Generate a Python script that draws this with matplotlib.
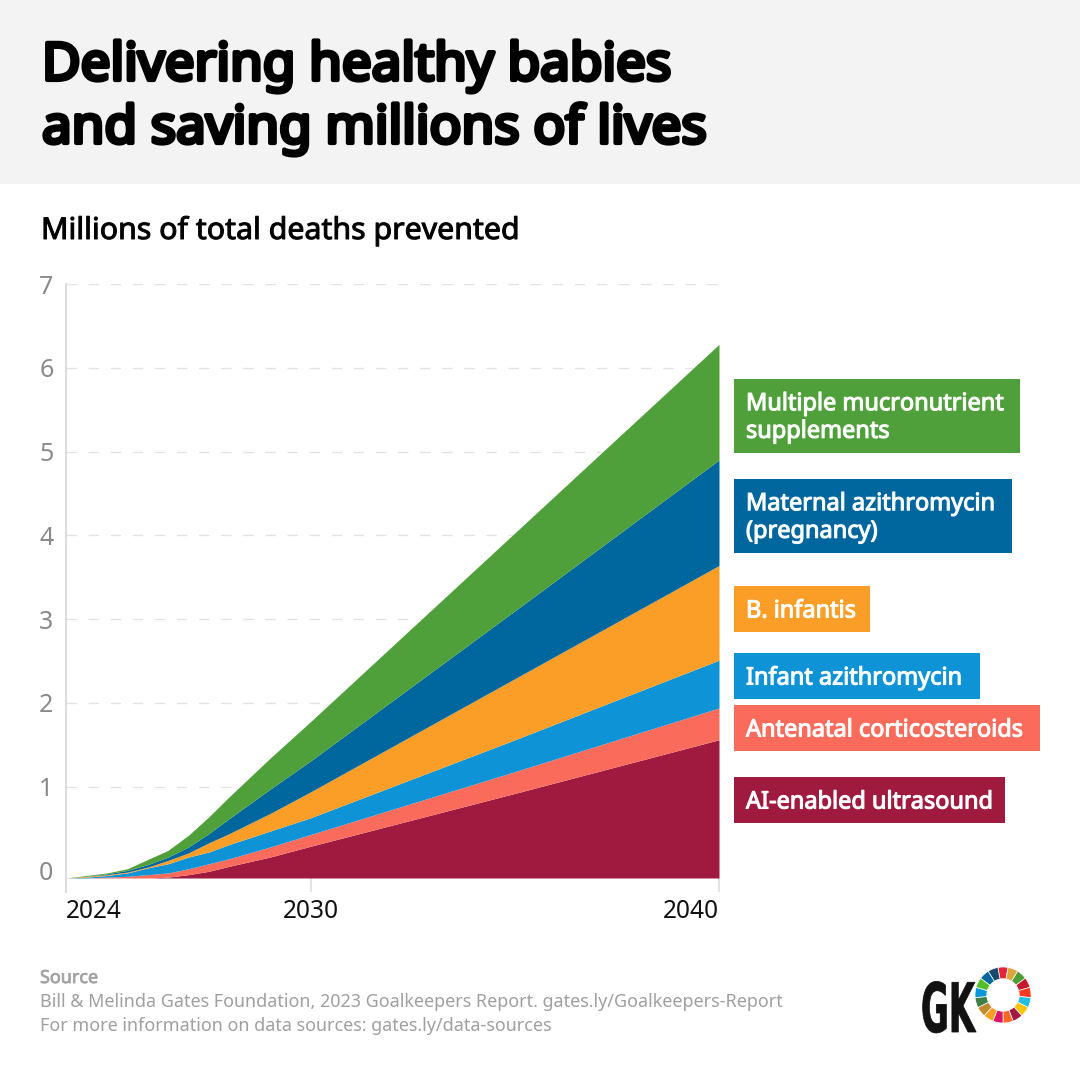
import matplotlib
matplotlib.use("Agg")
import matplotlib.pyplot as plt
import matplotlib.patheffects as pe
from matplotlib.patches import Rectangle
from matplotlib.transforms import Affine2D
import numpy as np

years = [2024, 2024.5, 2025, 2025.5, 2026, 2026.5, 2027, 2027.5, 2028, 2029, 2030, 2035, 2040]
ai_ultrasound = [0, 0, 0, 0, 0, .01, .04, .08, .14, .25, .38, 1.01, 1.65]
antenatal = [0, 0, .01, .02, .04, .05, .07, .09, .09, .12, .14, .26, .38]
infant_azithro = [0, .01, .02, .04, .08, .11, .14, .14, .17, .19, .20, .38, .57]
b_infantis = [0, .01, .01, .01, .01, .04, .05, .11, .13, .21, .31, .73, 1.13]
maternal_azithro = [0, 0, .01, .02, .03, .04, .07, .11, .18, .29, .37, .81, 1.26]
supplements = [0, .01, .01, .02, .06, .08, .14, .20, .26, .37, .47, .93, 1.38]
series_colors = ["#A01A40", "#FB6B5B", "#0E94D6", "#FA9E28", "#00669E", "#4FA03A"]
labels = ["AI-enabled ultrasound", "Antenatal corticosteroids", "Infant azithromycin",
          "B. infantis", "Maternal azithromycin\n(pregnancy)", "Multiple mucronutrient\nsupplements"]
y_ticks = [0, 1, 2, 3, 4, 5, 6, 7]
x_ticks = [2024, 2030, 2040]
sdg_colors = ["#E5243B", "#DDA63A", "#4C9F38", "#C5192D", "#FF3A21", "#26BDE2", "#FCC30B", "#A21942",
              "#FD6925", "#DD1367", "#FD9D24", "#BF8B2E", "#3F7E44", "#0A97D9", "#56C02B", "#00689D", "#19486A"]

W = H = 1080
fig = plt.figure(figsize=(10.8, 10.8), dpi=100, facecolor="white")
PX = 72 / 100
UI = "Noto Sans"

def fx(x): return x / W
def fy(y): return 1 - y / H

class FatStretch(pe.AbstractPathEffect):
    """Scales the glyph outlines about an anchor and thickens them with a stroke of the same colour."""
    def __init__(self, kx, ky, x0, y0, stroke_px, color):
        super().__init__()
        self.t = Affine2D().translate(-x0, -y0).scale(kx, ky).translate(x0, y0)
        self.lw = stroke_px * PX
        self.color = color
    def draw_path(self, renderer, gc, tpath, affine, rgbFace=None):
        gc0 = renderer.new_gc()
        gc0.copy_properties(gc)
        gc0.set_linewidth(self.lw)
        gc0.set_foreground(self.color)
        gc0.set_joinstyle("round")
        renderer.draw_path(gc0, tpath, affine + self.t, rgbFace)
        gc0.restore()

def stxt(x, y, s, kx=1.0, ky=1.0, stroke=0.0, color="black", **kw):
    t = fig.text(fx(x), fy(y), s, color=color, **kw)
    t.set_path_effects([FatStretch(kx, ky, x, H - y, stroke, color)])
    return t

fig.add_artist(Rectangle((0, fy(184)), 1, 184 / H, transform=fig.transFigure, fc="#F3F3F3", ec="none"))
stxt(42, 80, "Delivering healthy babies", kx=1.018, stroke=4.2, fontsize=52 * PX, family=UI, va="baseline", ha="left")
stxt(42, 143, "and saving millions of lives", kx=1.018, stroke=4.2, fontsize=52 * PX, family=UI, va="baseline", ha="left")
stxt(41, 239, "Millions of total deaths prevented", kx=1.01, stroke=1.0, fontsize=30 * PX, family=UI, va="baseline")

ax = fig.add_axes([fx(66), fy(878), (719 - 66) / W, (878 - 284) / H])
BASE = -0.09
bottom = np.full(len(years), BASE)
for vals, c in zip([ai_ultrasound, antenatal, infant_azithro, b_infantis, maternal_azithro, supplements], series_colors):
    top = bottom + np.array(vals)
    ax.fill_between(years, bottom, top, color=c, lw=0, zorder=3)
    bottom = top
ax.set_xlim(2024, 2040)
ax.set_ylim(BASE, 7)
for s in ("top", "right", "bottom"):
    ax.spines[s].set_visible(False)
ax.spines["left"].set_color("#DCDCDC")
ax.spines["left"].set_linewidth(2 * PX)
ax.set_yticks(y_ticks)
ax.set_yticklabels([str(v) for v in y_ticks], fontsize=25 * PX, color="#8A8A8A", family=UI)
ax.tick_params(axis="y", length=0, pad=9)
ax.set_xticks(x_ticks)
ax.set_xticklabels([str(v) for v in x_ticks], fontsize=24.5 * PX, color="#111111", family=UI)
ax.tick_params(axis="x", length=14 * PX, width=1.5 * PX, color="#DCDCDC", pad=5)
xl = ax.get_xticklabels()
xl[0].set_ha("left")
xl[2].set_ha("right")
ax.grid(False)
for v in y_ticks[1:]:
    ax.axhline(v, color="#E2E2E2", lw=1.3 * PX, dashes=(8, 9), zorder=1)
ax.plot([0, 0], [-14 / 594, 0], transform=ax.transAxes, color="#DCDCDC", lw=2 * PX, clip_on=False)

boxes = [(777, 823, 1005), (705, 751, 1040), (653, 699, 980), (586, 632, 870), (479, 553, 1012), (379, 453, 1020)]
for (y0, y1, x1), lab, c in zip(boxes, labels, series_colors):
    fig.add_artist(Rectangle((fx(734), fy(y1)), (x1 - 734) / W, (y1 - y0) / H, transform=fig.transFigure, fc=c, ec="none"))
    two_line = "\n" in lab
    stxt(746, (y0 + y1) / 2 + (2 if two_line else 2.5), lab, kx=0.98, stroke=1.1, color="white", fontsize=24 * PX, family=UI,
         va="center", ha="left", linespacing=1.2)

stxt(40, 978, "Source", stroke=0.8, color="#A0A0A0", fontsize=18 * PX, family=UI, va="center")
fig.text(fx(40), fy(1002), "Bill & Melinda Gates Foundation, 2023 Goalkeepers Report. gates.ly/Goalkeepers-Report",
         fontsize=18 * PX, family=UI, color="#A0A0A0", va="center")
fig.text(fx(40), fy(1026), "For more information on data sources: gates.ly/data-sources",
         fontsize=18 * PX, family=UI, color="#A0A0A0", va="center")

stxt(921, 1032, "GK", kx=0.77, ky=1.55, stroke=0.8, color="#111111", fontsize=44 * PX, family="Liberation Sans Narrow",
     weight="bold", va="baseline", ha="left")

wheel = fig.add_axes([fx(1003 - 28), fy(995 + 28), 56 / W, 56 / H])
wheel.pie([1] * 17, colors=sdg_colors, startangle=90 + 360 / 34, counterclock=False, radius=1,
          wedgeprops=dict(width=0.42, edgecolor="white", linewidth=0.5))
wheel.set_xlim(-1, 1); wheel.set_ylim(-1, 1)
wheel.axis("off")

fig.savefig("out.png", dpi=100)
